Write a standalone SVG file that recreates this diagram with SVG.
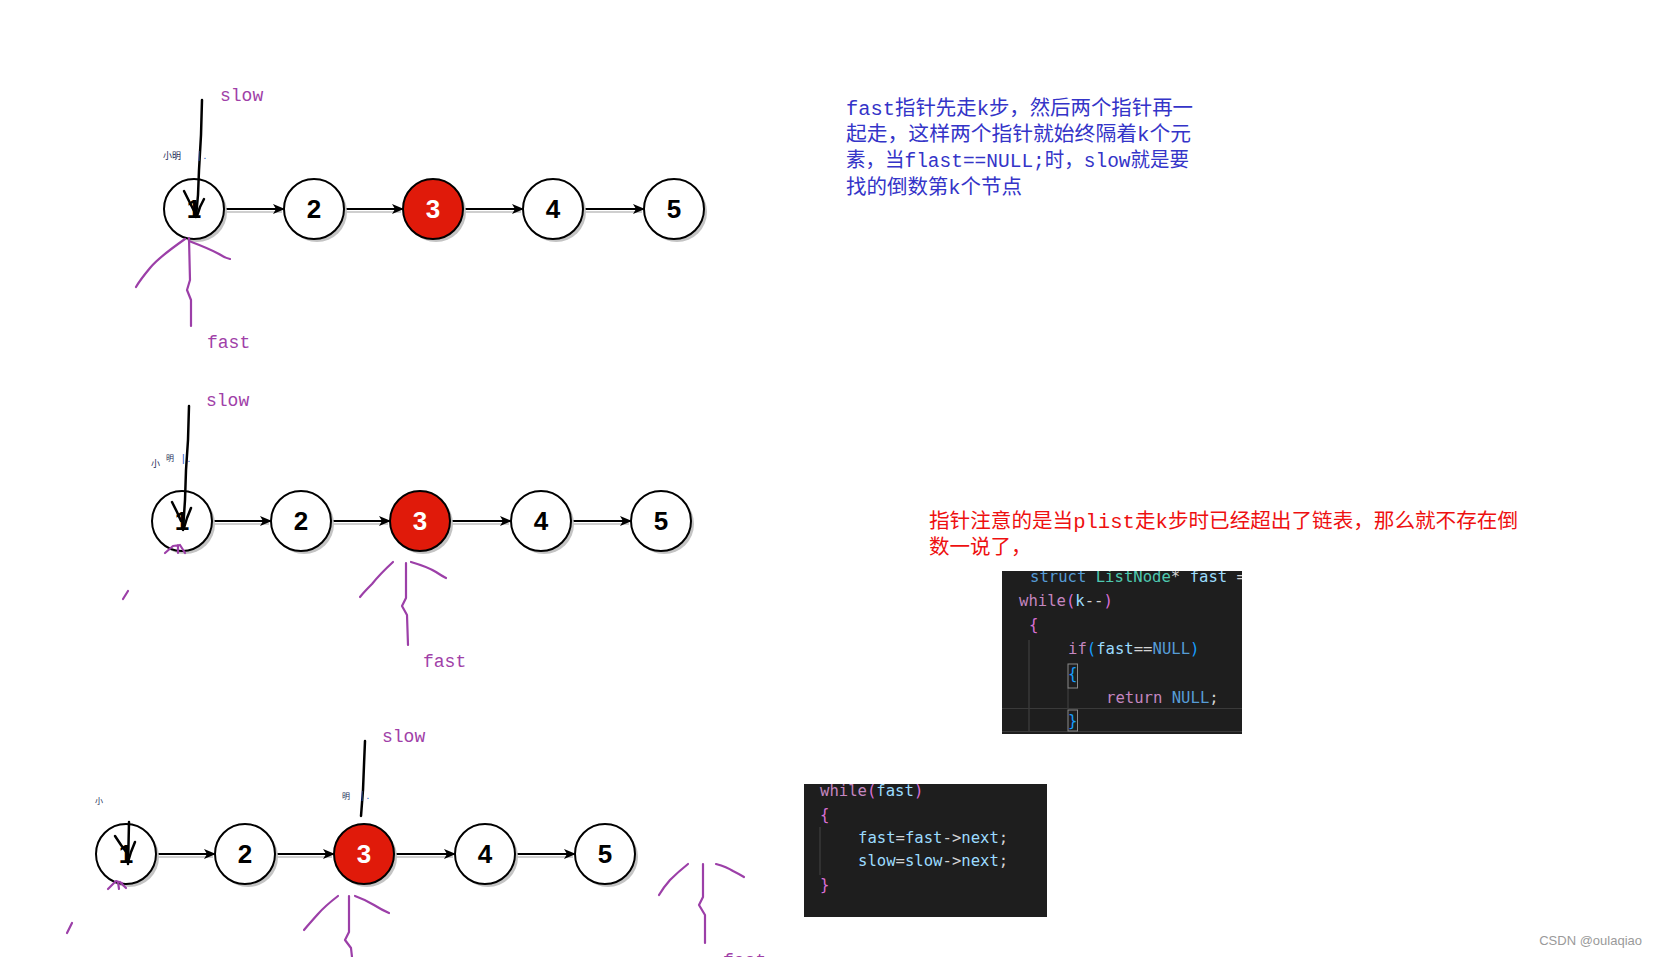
<svg xmlns="http://www.w3.org/2000/svg" width="1656" height="957" viewBox="0 0 1656 957">
<style>
.bg{fill:#ffffff}
.shadow{fill:#c4c4c4}
.node{fill:#ffffff;stroke:#000;stroke-width:2}
.nodeRed{fill:#e01a0a;stroke:#000;stroke-width:2}
.lbl{font-family:"Liberation Sans",Arial,sans-serif;font-weight:bold;font-size:26px;text-anchor:middle;fill:#000}
.lblW{fill:#fff}
.edge{stroke:#000;stroke-width:2;fill:none}
.edgeSh{stroke:#cfcfcf;stroke-width:2;fill:none}
.ptr{font-family:"Liberation Mono","Courier New",monospace;font-size:18px;fill:#a040a8}
.ink{stroke:#000;stroke-width:2.5;fill:none;stroke-linecap:round;stroke-linejoin:round}
.pink{stroke:#9c3fa8;stroke-width:2.2;fill:none;stroke-linecap:round;stroke-linejoin:round}
.frag{font-family:"Noto Sans CJK SC",sans-serif;font-size:9px;fill:#1a2a55}
.fragB{font-family:"Liberation Sans",sans-serif;font-size:10px;fill:#2050c0}
.note{font-family:"Liberation Mono","Noto Sans CJK SC",monospace;font-size:20.5px}
.blue{fill:#3434c8}
.red{fill:#ee1010}
.code{font-family:"DejaVu Sans Mono","Liberation Mono",monospace;font-size:15.6px;fill:#d4d4d4}
.kw{fill:#c586c0}.ty{fill:#569cd6}.cl{fill:#4ec9b0}.vr{fill:#9cdcfe}.b1{fill:#da70d6}.b2{fill:#179fff}
.guide{stroke:#444;stroke-width:1}
.wm{font-family:"Liberation Sans",Arial,sans-serif;font-size:13px;fill:#9a9a9a;text-anchor:end}
</style>
<defs>
<marker id="arr" viewBox="0 0 12 10" refX="11" refY="5" markerWidth="12" markerHeight="10" markerUnits="userSpaceOnUse" orient="auto">
<path d="M0,0 L12,5 L0,10 L3,5 Z" fill="#000"/>
</marker>
<clipPath id="clip1"><rect x="1002" y="571" width="240" height="163"/></clipPath>
<clipPath id="clip2"><rect x="804" y="784" width="243" height="133"/></clipPath>
<clipPath id="clipAll"><rect x="0" y="0" width="1656" height="957"/></clipPath>
</defs>
<rect class="bg" x="0" y="0" width="1656" height="957"/>

<!-- connectors -->
<g id="connectors">
<!-- row 1 -->
<line class="edgeSh" x1="225" y1="212" x2="282" y2="212"/>
<line class="edgeSh" x1="345" y1="212" x2="401" y2="212"/>
<line class="edgeSh" x1="464" y1="212" x2="521" y2="212"/>
<line class="edgeSh" x1="584" y1="212" x2="642" y2="212"/>
<line class="edge" x1="224" y1="209" x2="284" y2="209" marker-end="url(#arr)"/>
<line class="edge" x1="344" y1="209" x2="403" y2="209" marker-end="url(#arr)"/>
<line class="edge" x1="463" y1="209" x2="523" y2="209" marker-end="url(#arr)"/>
<line class="edge" x1="583" y1="209" x2="644" y2="209" marker-end="url(#arr)"/>
<!-- row 2 -->
<line class="edgeSh" x1="213" y1="524" x2="269" y2="524"/>
<line class="edgeSh" x1="332" y1="524" x2="388" y2="524"/>
<line class="edgeSh" x1="451" y1="524" x2="509" y2="524"/>
<line class="edgeSh" x1="572" y1="524" x2="629" y2="524"/>
<line class="edge" x1="212" y1="521" x2="271" y2="521" marker-end="url(#arr)"/>
<line class="edge" x1="331" y1="521" x2="390" y2="521" marker-end="url(#arr)"/>
<line class="edge" x1="450" y1="521" x2="511" y2="521" marker-end="url(#arr)"/>
<line class="edge" x1="571" y1="521" x2="631" y2="521" marker-end="url(#arr)"/>
<!-- row 3 -->
<line class="edgeSh" x1="157" y1="857" x2="213" y2="857"/>
<line class="edgeSh" x1="276" y1="857" x2="332" y2="857"/>
<line class="edgeSh" x1="395" y1="857" x2="453" y2="857"/>
<line class="edgeSh" x1="516" y1="857" x2="573" y2="857"/>
<line class="edge" x1="156" y1="854" x2="215" y2="854" marker-end="url(#arr)"/>
<line class="edge" x1="275" y1="854" x2="334" y2="854" marker-end="url(#arr)"/>
<line class="edge" x1="394" y1="854" x2="455" y2="854" marker-end="url(#arr)"/>
<line class="edge" x1="515" y1="854" x2="575" y2="854" marker-end="url(#arr)"/>
</g>

<!-- row 1 nodes -->
<g id="r1n1"><circle class="shadow" cx="197" cy="212" r="30"/><circle class="node" cx="194" cy="209" r="30"/><text class="lbl" x="194" y="218">1</text></g>
<g id="r1n2"><circle class="shadow" cx="317" cy="212" r="30"/><circle class="node" cx="314" cy="209" r="30"/><text class="lbl" x="314" y="218">2</text></g>
<g id="r1n3"><circle class="shadow" cx="436" cy="212" r="30"/><circle class="nodeRed" cx="433" cy="209" r="30"/><text class="lbl lblW" x="433" y="218">3</text></g>
<g id="r1n4"><circle class="shadow" cx="556" cy="212" r="30"/><circle class="node" cx="553" cy="209" r="30"/><text class="lbl" x="553" y="218">4</text></g>
<g id="r1n5"><circle class="shadow" cx="677" cy="212" r="30"/><circle class="node" cx="674" cy="209" r="30"/><text class="lbl" x="674" y="218">5</text></g>

<!-- row 2 nodes -->
<g id="r2n1"><circle class="shadow" cx="185" cy="524" r="30"/><circle class="node" cx="182" cy="521" r="30"/><text class="lbl" x="182" y="530">1</text></g>
<g id="r2n2"><circle class="shadow" cx="304" cy="524" r="30"/><circle class="node" cx="301" cy="521" r="30"/><text class="lbl" x="301" y="530">2</text></g>
<g id="r2n3"><circle class="shadow" cx="423" cy="524" r="30"/><circle class="nodeRed" cx="420" cy="521" r="30"/><text class="lbl lblW" x="420" y="530">3</text></g>
<g id="r2n4"><circle class="shadow" cx="544" cy="524" r="30"/><circle class="node" cx="541" cy="521" r="30"/><text class="lbl" x="541" y="530">4</text></g>
<g id="r2n5"><circle class="shadow" cx="664" cy="524" r="30"/><circle class="node" cx="661" cy="521" r="30"/><text class="lbl" x="661" y="530">5</text></g>

<!-- row 3 nodes -->
<g id="r3n1"><circle class="shadow" cx="129" cy="857" r="30"/><circle class="node" cx="126" cy="854" r="30"/><text class="lbl" x="126" y="863">1</text></g>
<g id="r3n2"><circle class="shadow" cx="248" cy="857" r="30"/><circle class="node" cx="245" cy="854" r="30"/><text class="lbl" x="245" y="863">2</text></g>
<g id="r3n3"><circle class="shadow" cx="367" cy="857" r="30"/><circle class="nodeRed" cx="364" cy="854" r="30"/><text class="lbl lblW" x="364" y="863">3</text></g>
<g id="r3n4"><circle class="shadow" cx="488" cy="857" r="30"/><circle class="node" cx="485" cy="854" r="30"/><text class="lbl" x="485" y="863">4</text></g>
<g id="r3n5"><circle class="shadow" cx="608" cy="857" r="30"/><circle class="node" cx="605" cy="854" r="30"/><text class="lbl" x="605" y="863">5</text></g>

<!-- hand-drawn pointers -->
<g id="slow-pointers">
<text class="ptr" x="220" y="101">slow</text>
<path class="ink" d="M202,100 L201,135 L199,170 L198,195 L196,217"/>
<path class="ink" d="M184,191 L190,203 L196,215"/>
<path class="ink" d="M204,199 L200,207 L197,216"/>
<text class="frag" x="163" y="159">小明</text>
<text class="fragB" x="198" y="159">| .</text>

<text class="ptr" x="206" y="406">slow</text>
<path class="ink" d="M189,406 L188,440 L186,470 L185,500 L183,530"/>
<path class="ink" d="M172,502 L177,512 L181,521"/>
<path class="ink" d="M191,508 L187,518 L184,528"/>
<text class="frag" x="151" y="467">小</text>
<text class="frag" x="166" y="461" style="font-size:8px">明</text>
<text class="fragB" x="182" y="462">| .</text>

<text class="ptr" x="382" y="742">slow</text>
<path class="ink" d="M365,741 L364,765 L363,790 L361,816"/>
<text class="frag" x="342" y="799" style="font-size:8px">明</text>
<text class="fragB" x="361" y="799">| .</text>
<text class="frag" x="95" y="804" style="font-size:8px">小</text>
<path class="ink" d="M129,822 L128.5,845 L128,864"/>
<path class="ink" d="M115,836 L121,845 L127,853"/>
<path class="ink" d="M135,842 L131,852 L128,862"/>
</g>

<g id="fast-pointers">
<!-- row 1 -->
<path class="pink" d="M189,238 L190,280 L187,290 L191,300 L191,326"/>
<path class="pink" d="M185,239 Q158,258 150,268 Q140,280 136,287"/>
<path class="pink" d="M189,241 Q210,249 219,254 Q225,258 230,259"/>
<text class="ptr" x="207" y="348">fast</text>
<!-- row 2 -->
<path class="pink" d="M406,563 L406,598 L402,606 L407,615 L408,645"/>
<path class="pink" d="M393,562 Q380,574 372,584 Q364,592 360,597"/>
<path class="pink" d="M411,562 Q428,567 436,572 Q442,576 446,578"/>
<text class="ptr" x="423" y="667">fast</text>
<path class="pink" d="M165,553 L173,546 L180,545 M178,545 L178,553 M180,545 L185,553"/>
<path class="pink" d="M123,599 L128,591"/>
<!-- row 3 -->
<path class="pink" d="M349,896 L349,932 L345,940 L351,948 L352,957"/>
<path class="pink" d="M338,896 Q325,906 318,914 Q309,924 304,930"/>
<path class="pink" d="M355,896 Q366,900 374,905 Q382,910 389,913"/>
<path class="pink" d="M703,864 L703,897 L699,905 L705,915 L705,943"/>
<path class="pink" d="M688,864 Q678,872 670,880 Q663,888 659,895"/>
<path class="pink" d="M716,864 Q727,867 733,871 Q739,874 744,877"/>
<path class="pink" d="M108,889 L116,881 L122,883 M118,882 L119,889 M120,882 L126,888"/>
<path class="pink" d="M67,933 L72,923"/>
<text class="ptr" x="723" y="966" clip-path="url(#clipAll)">fast</text>
</g>

<!-- notes -->
<g id="note-blue" class="note blue">
<text x="846" y="115" textLength="347" lengthAdjust="spacingAndGlyphs">fast指针先走k步，然后两个指针再一</text>
<text x="846" y="141" textLength="345" lengthAdjust="spacingAndGlyphs">起走，这样两个指针就始终隔着k个元</text>
<text x="846" y="167" textLength="343" lengthAdjust="spacingAndGlyphs">素，当flast==NULL;时，slow就是要</text>
<text x="846" y="194" textLength="176" lengthAdjust="spacingAndGlyphs">找的倒数第k个节点</text>
</g>
<g id="note-red" class="note red">
<text x="929" y="528" textLength="589" lengthAdjust="spacingAndGlyphs">指针注意的是当plist走k步时已经超出了链表，那么就不存在倒</text>
<text x="929" y="554">数一说了，</text>
</g>

<!-- code box 1 -->
<g id="code1">
<rect x="1002" y="571" width="240" height="163" fill="#1e1e1e"/>
<g clip-path="url(#clip1)">
<line class="guide" x1="1029" y1="640" x2="1029" y2="732"/>
<line class="guide" x1="1068" y1="688" x2="1068" y2="708"/>
<line x1="1002" y1="708.5" x2="1242" y2="708.5" stroke="#3a3a3a" stroke-width="1.2"/>
<line x1="1002" y1="731.5" x2="1242" y2="731.5" stroke="#3a3a3a" stroke-width="1.2"/>
<rect x="1068" y="664" width="9.5" height="24" fill="none" stroke="#8a8a8a" stroke-width="1"/>
<rect x="1068" y="710" width="9.5" height="21" fill="none" stroke="#8a8a8a" stroke-width="1"/>
<text class="code" x="1030" y="582"><tspan class="ty">struct</tspan> <tspan class="cl">ListNode</tspan>* <tspan class="vr">fast</tspan> =</text>
<text class="code" x="1019" y="606"><tspan class="kw">while</tspan><tspan class="b1">(</tspan><tspan class="vr">k</tspan>--<tspan class="b1">)</tspan></text>
<text class="code b1" x="1029" y="630">{</text>
<text class="code" x="1068" y="654"><tspan class="kw">if</tspan><tspan class="b2">(</tspan><tspan class="vr">fast</tspan>==<tspan class="ty">NULL</tspan><tspan class="b2">)</tspan></text>
<text class="code b2" x="1068" y="679">{</text>
<text class="code" x="1106" y="703"><tspan class="kw">return</tspan> <tspan class="ty">NULL</tspan>;</text>
<text class="code b2" x="1068" y="726">}</text>
</g>
</g>

<!-- code box 2 -->
<g id="code2">
<rect x="804" y="784" width="243" height="133" fill="#1e1e1e"/>
<g clip-path="url(#clip2)">
<line class="guide" x1="820" y1="827" x2="820" y2="875"/>
<text class="code" x="820" y="796"><tspan class="kw">while</tspan><tspan class="b1">(</tspan><tspan class="vr">fast</tspan><tspan class="b1">)</tspan></text>
<text class="code b1" x="820" y="820">{</text>
<text class="code" x="858" y="843"><tspan class="vr">fast</tspan>=<tspan class="vr">fast</tspan>-&gt;<tspan class="vr">next</tspan>;</text>
<text class="code" x="858" y="866"><tspan class="vr">slow</tspan>=<tspan class="vr">slow</tspan>-&gt;<tspan class="vr">next</tspan>;</text>
<text class="code b1" x="820" y="890">}</text>
</g>
</g>

<text id="watermark" class="wm" x="1642" y="945">CSDN @oulaqiao</text>
</svg>
